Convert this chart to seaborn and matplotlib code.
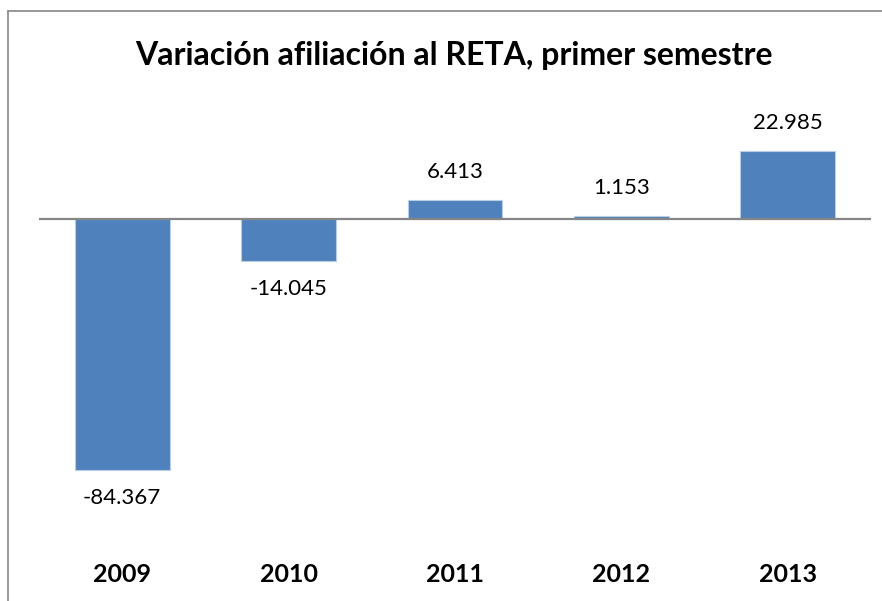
import matplotlib
matplotlib.use("Agg")
import matplotlib.pyplot as plt
import seaborn as sns
import pandas as pd
from matplotlib.lines import Line2D

years = ["2009", "2010", "2011", "2012", "2013"]
values = [-84367, -14045, 6413, 1153, 22985]
labels = ["-84.367", "-14.045", "6.413", "1.153", "22.985"]
title = "Variación afiliación al RETA, primer semestre"

df = pd.DataFrame({"year": years, "value": values})

sns.set_theme(style="white")
plt.rcParams['font.family'] = ['Lato', 'DejaVu Sans']

W, H = 882, 601
fig = plt.figure(figsize=(W / 100, H / 100), dpi=100)
fig.patch.set_facecolor("white")

left, right = 39, 871
top, bottom = 100, 516.5
ax = fig.add_axes([left / W, 1 - bottom / H, (right - left) / W, (bottom - top) / H])

sns.barplot(data=df, x="year", y="value", ax=ax, color="#4F81BD", saturation=1,
            width=0.57, edgecolor="#B9CDE5", linewidth=0.8)

ax.set_ylim(-100000, 40000)
ax.set_xlim(-0.5, len(years) - 0.5)
ax.axhline(0, color="#868686", linewidth=1.6, zorder=5)

for sp in ax.spines.values():
    sp.set_visible(False)
ax.set_yticks([])
ax.set_xlabel("")
ax.set_ylabel("")
ax.tick_params(axis="x", length=0, pad=0)
ax.set_xticklabels([])

for i, (v, lab) in enumerate(zip(values, labels)):
    if v >= 0:
        ax.annotate(lab, (i, v), xytext=(0, 13), textcoords="offset points",
                    ha="center", va="bottom", fontsize=16, color="black")
    else:
        ax.annotate(lab, (i, v), xytext=(0, -13), textcoords="offset points",
                    ha="center", va="top", fontsize=16, color="black")

# category labels
for i, y in enumerate(years):
    fig.text((left + (i + 0.5) * (right - left) / len(years)) / W, 1 - 575 / H, y,
             ha="center", va="center", fontsize=18, fontweight="bold", color="black")

fig.text(454 / W, 1 - 55 / H, title, ha="center", va="center",
         fontsize=23, fontweight="bold", color="black")

# outer border (top and left)
fig.add_artist(Line2D([8 / W, 8 / W], [0, 1 - 11 / H], transform=fig.transFigure,
                      color="#868686", linewidth=1.2))
fig.add_artist(Line2D([8 / W, 1], [1 - 11 / H, 1 - 11 / H], transform=fig.transFigure,
                      color="#868686", linewidth=1.2))

fig.savefig("out.png", dpi=100, facecolor="white")
